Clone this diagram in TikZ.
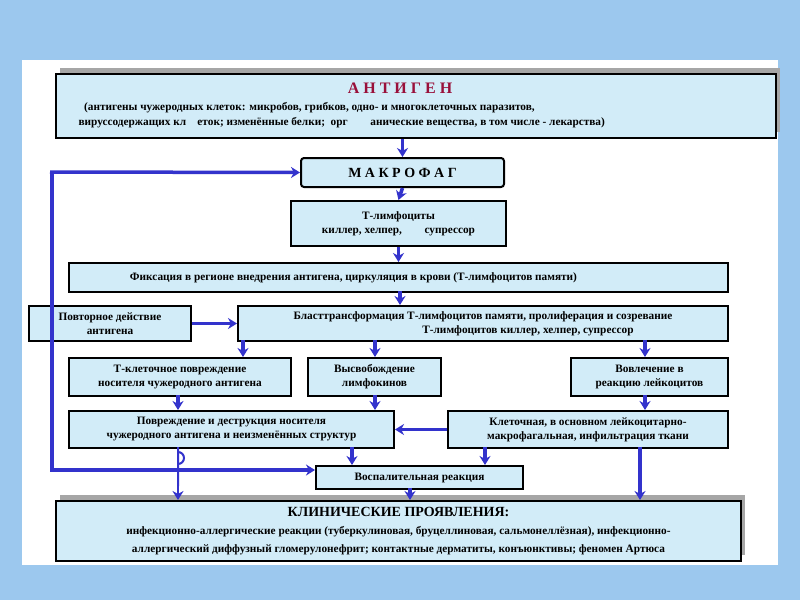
\documentclass[tikz,border=0pt]{standalone}
\usepackage{fontspec}
\setmainfont{Liberation Serif}
\usetikzlibrary{arrows.meta}
\definecolor{bg}{HTML}{9CC8EE}
\definecolor{boxf}{HTML}{D2ECF8}
\definecolor{ln}{HTML}{3333CC}
\definecolor{ttl}{HTML}{99103A}
\begin{document}
\begin{tikzpicture}[x=1pt,y=-1pt,
  box/.style={draw=black,line width=2pt,fill=boxf,font=\bfseries\fontsize{11.3}{14}\selectfont,align=center,inner sep=0pt},
  ar/.style={draw=ln,line width=3.5pt,-{Stealth[length=9pt,width=11pt]}},
  ln/.style={draw=ln,line width=3.5pt}]
\useasboundingbox (0,0) rectangle (800,600);
\fill[bg] (0,0) rectangle (800,600);
\fill[white] (22,60) rectangle (778,565);
% shadows
\fill[gray!70] (60,68) rectangle (780,132);
\fill[gray!70] (60,495) rectangle (745,555);
\node[box,minimum width=720,minimum height=64,anchor=north west] (ag) at (55,73) {};
\node[font=\bfseries\fontsize{16}{18}\selectfont,text=ttl] at (400,88) {А Н Т И Г Е Н};
\node[font=\bfseries\fontsize{11.3}{15}\selectfont,align=left,anchor=north west] at (75,99) {\ \ (антигены чужеродных клеток: микробов, грибков, одно- и многоклеточных паразитов,\\вируссодержащих кл\quad еток; изменённые белки;\ \ орг\qquad анические вещества, в том числе - лекарства)};
\node[box,rounded corners=3pt,minimum width=203,minimum height=29,anchor=north west,font=\bfseries\fontsize{14}{16}\selectfont] (mf) at (300,157) {М А К Р О Ф А Г};
\node[box,minimum width=215,minimum height=45,anchor=north west] (tl) at (290,200) {Т-лимфоциты\\киллер, хелпер,\qquad супрессор};
\node[box,minimum width=659,minimum height=29,anchor=north west] (fx) at (68,262) {\hspace*{-90pt}Фиксация в регионе внедрения антигена, циркуляция в крови (Т-лимфоцитов памяти)};
\node[box,minimum width=162,minimum height=35,anchor=north west] (pd) at (28,305) {Повторное действие\\антигена};
\node[box,minimum width=490,minimum height=35,anchor=north west] (bl) at (237,305) {Бласттрансформация Т-лимфоцитов памяти, пролиферация и созревание\\\hspace*{90pt}Т-лимфоцитов киллер, хелпер, супрессор};
\node[box,minimum width=222,minimum height=38,anchor=north west] (tk) at (68,357) {Т-клеточное повреждение\\носителя чужеродного антигена};
\node[box,minimum width=133,minimum height=38,anchor=north west] (vy) at (307,357) {Высвобождение\\лимфокинов};
\node[box,minimum width=157,minimum height=38,anchor=north west] (vo) at (570,357) {Вовлечение в\\реакцию лейкоцитов};
\node[box,minimum width=325,minimum height=37,anchor=north west] (pr) at (68,410) {Повреждение и деструкция носителя\\чужеродного антигена и неизменённых структур};
\node[box,minimum width=280,minimum height=37,anchor=north west] (kl) at (447,410) {Клеточная, в основном лейкоцитарно-\\макрофагальная, инфильтрация ткани};
\node[box,minimum width=207,minimum height=23,anchor=north west] (vs) at (315,465) {Воспалительная реакция};
\node[box,minimum width=685,minimum height=60,anchor=north west,font=\bfseries\fontsize{11.3}{18}\selectfont] (kp) at (55,500) {{\fontsize{14}{15}\selectfont КЛИНИЧЕСКИЕ ПРОЯВЛЕНИЯ:}\\инфекционно-аллергические реакции (туберкулиновая, бруцеллиновая, сальмонеллёзная), инфекционно-\\аллергический диффузный гломерулонефрит; контактные дерматиты, конъюнктивы; феномен Артюса};
% arrows
\draw[ar] (ag.south-|mf.north) -- (mf.north);
\draw[ar] (mf.south) -- (tl.north);
\draw[ar] (tl.south) -- (tl.south|-fx.north);
\draw[ar] (400,291) -- (400,305);
\draw[ar] (pd.east) -- (bl.west);
\draw[ar] (243,340) -- (243,357);
\draw[ar] (375,340) -- (375,357);
\draw[ar] (645,340) -- (645,357);
\draw[ar] (178,395) -- (178,410);
\draw[ar] (375,395) -- (375,410);
\draw[ar] (645,395) -- (645,410);
\draw[ar] (kl.west) -- (pr.east);
\draw[ar] (352,447) -- (352,465);
\draw[ar] (485,447) -- (485,465);
\draw[ar] (410,488) -- (410,500);
\draw[ar] (640,447) -- (640,500);
\draw[draw=ln,line width=2pt] (178,447) -- (178,464) arc[start angle=90,end angle=-90,radius=6] -- (178,486);
\draw[ar,line width=2pt] (178,484) -- (178,500);
\draw[ln] (52,470) -- (52,172);
\draw[ar] (50,172) -- (mf.west);
\draw[ar] (50,470) -- (vs.west|-0,470);
\end{tikzpicture}
\end{document}
